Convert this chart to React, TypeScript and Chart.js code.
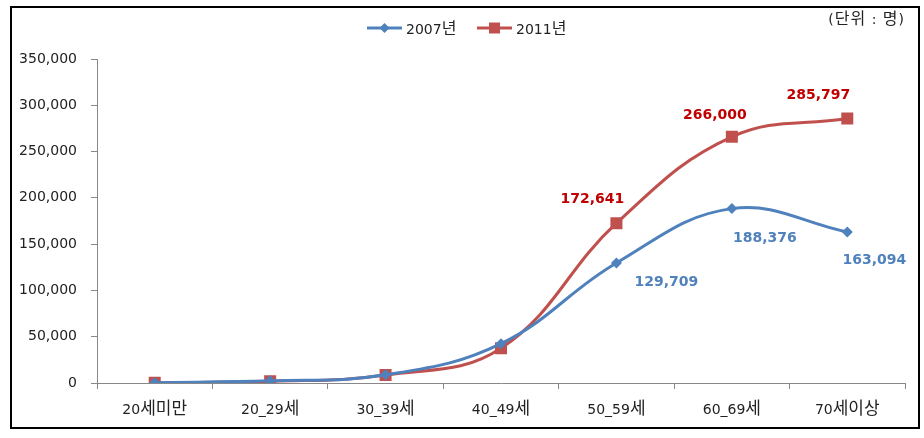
import React, { useEffect, useRef } from "react";
import { Chart, registerables } from "chart.js";

Chart.register(...registerables);

const categories = ["20세미만", "20_29세", "30_39세", "40_49세", "50_59세", "60_69세", "70세이상"];
const series2007 = [400, 2300, 8800, 42500, 129709, 188376, 163094];
const series2011 = [200, 1800, 8600, 37500, 172641, 266000, 285797];
const seriesNames = ["2007년", "2011년"];
const labeledIndices = [4, 5, 6];
const unitText = "(단위 : 명)";

const BLUE = "#4F81BD";
const RED = "#C0504D";
const BLUE_LABEL = "#4F81BD";
const RED_LABEL = "#C00000";
const TEXT = "#222";
const LATIN = "'DejaVu Sans', 'Noto Sans CJK KR', sans-serif";
const HANGUL = "'Noto Sans CJK KR', 'DejaVu Sans', sans-serif";

// label offsets relative to the point (layout only)
const labelOffsets = [
  [[0, 0], [0, 0], [0, 0], [0, 0], [50, 19], [33, 30], [27, 28]],
  [[0, 0], [0, 0], [0, 0], [0, 0], [-24, -24], [-17, -21], [-29, -23]],
];

const fmt = (v: number) => v.toLocaleString("en-US");

function splitRuns(text: string) {
  const runs: { t: string; h: boolean }[] = [];
  for (const ch of text) {
    const h = /[\uAC00-\uD7A3\u3131-\u318E]/.test(ch);
    const last = runs[runs.length - 1];
    if (last && last.h === h) last.t += ch;
    else runs.push({ t: ch, h });
  }
  return runs;
}

function drawMixed(
  ctx: CanvasRenderingContext2D,
  text: string,
  x: number,
  baseline: number,
  align: "left" | "center" | "right",
  latinSize: number,
  hangulSize: number
) {
  const runs = splitRuns(text);
  const fontOf = (h: boolean) => (h ? `${hangulSize}px ${HANGUL}` : `${latinSize}px ${LATIN}`);
  let total = 0;
  const widths = runs.map((r) => {
    ctx.font = fontOf(r.h);
    const w = ctx.measureText(r.t).width;
    total += w;
    return w;
  });
  let cx = align === "left" ? x : align === "center" ? x - total / 2 : x - total;
  ctx.textAlign = "left";
  ctx.textBaseline = "alphabetic";
  runs.forEach((r, i) => {
    ctx.font = fontOf(r.h);
    ctx.fillText(r.t, cx, baseline);
    cx += widths[i];
  });
}

const overlayPlugin = {
  id: "overlay",
  afterDraw(chart: any) {
    const ctx = chart.ctx as CanvasRenderingContext2D;
    ctx.save();
    // frame
    ctx.strokeStyle = "#000";
    ctx.lineWidth = 2;
    ctx.strokeRect(11, 7, 908, 421);

    // unit text
    ctx.fillStyle = TEXT;
    (ctx as any).letterSpacing = "1px";
    drawMixed(ctx, unitText, 905, 24, "right", 14, 16);
    (ctx as any).letterSpacing = "0px";

    // x category labels
    const xs = chart.scales.x;
    categories.forEach((c, i) => {
      ctx.fillStyle = TEXT;
      drawMixed(ctx, c, xs.getPixelForValue(i), 414, "center", 14, 17);
    });

    // legend
    const ly = 28;
    const items = [
      { x: 367, color: BLUE, shape: "diamond" },
      { x: 477, color: RED, shape: "square" },
    ];
    items.forEach((it, i) => {
      ctx.strokeStyle = it.color;
      ctx.lineWidth = 3;
      ctx.beginPath();
      ctx.moveTo(it.x, ly);
      ctx.lineTo(it.x + 35, ly);
      ctx.stroke();
      ctx.fillStyle = it.color;
      const cx = it.x + 17.5;
      if (it.shape === "diamond") {
        ctx.beginPath();
        ctx.moveTo(cx, ly - 5);
        ctx.lineTo(cx + 5, ly);
        ctx.lineTo(cx, ly + 5);
        ctx.lineTo(cx - 5, ly);
        ctx.closePath();
        ctx.fill();
      } else {
        ctx.fillRect(cx - 5.5, ly - 5.5, 11, 11);
      }
      ctx.fillStyle = TEXT;
      drawMixed(ctx, seriesNames[i], it.x + 39, ly + 6, "left", 14, 16);
    });

    // data labels
    ctx.font = `bold 14px ${LATIN}`;
    ctx.textAlign = "center";
    ctx.textBaseline = "middle";
    chart.data.datasets.forEach((ds: any, di: number) => {
      const meta = chart.getDatasetMeta(di);
      ctx.fillStyle = di === 0 ? BLUE_LABEL : RED_LABEL;
      labeledIndices.forEach((idx) => {
        const el = meta.data[idx];
        const [dx, dy] = labelOffsets[di][idx];
        ctx.fillText(fmt(ds.data[idx]), el.x + dx, el.y + dy);
      });
    });
    ctx.restore();
  },
};

export default function App() {
  const ref = useRef<HTMLCanvasElement>(null);
  useEffect(() => {
    if (!ref.current) return;
    const chart = new Chart(ref.current, {
      type: "line",
      data: {
        labels: categories,
        datasets: [
          {
            label: seriesNames[0],
            data: series2007,
            borderColor: BLUE,
            backgroundColor: BLUE,
            borderWidth: 3,
            pointStyle: "rectRot",
            pointRadius: 5.5,
            pointBorderWidth: 0,
            tension: 0.4,
          },
          {
            label: seriesNames[1],
            data: series2011,
            borderColor: RED,
            backgroundColor: RED,
            borderWidth: 3,
            pointStyle: "rect",
            pointRadius: 8.5,
            pointBorderWidth: 0,
            tension: 0.4,
          },
        ],
      },
      options: {
        responsive: false,
        animation: false,
        layout: { padding: { top: 59, right: 19, left: 0, bottom: 0 } },
        plugins: { legend: { display: false }, tooltip: { enabled: false } },
        scales: {
          x: {
            offset: true,
            afterFit(scale: any) {
              scale.height = 55;
            },
            grid: { offset: true, drawOnChartArea: false, tickLength: 6, color: "#888" },
            border: { color: "#888", width: 1 },
            ticks: { display: false },
          },
          y: {
            min: 0,
            max: 350000,
            afterFit(scale: any) {
              scale.width = 97;
            },
            grid: { drawOnChartArea: false, tickLength: 6, color: "#888" },
            border: { color: "#888", width: 1 },
            ticks: {
              stepSize: 50000,
              color: TEXT,
              font: { family: LATIN, size: 14 },
              padding: 14,
              callback: (v: any) => fmt(Number(v)),
            },
          },
        },
      },
      plugins: [overlayPlugin],
    });
    return () => chart.destroy();
  }, []);
  return (
    <div style={{ position: "absolute", left: 0, top: 0, width: 924, height: 438, background: "#fff" }}>
      <canvas ref={ref} width={924} height={438} style={{ width: 924, height: 438 }} />
    </div>
  );
}
